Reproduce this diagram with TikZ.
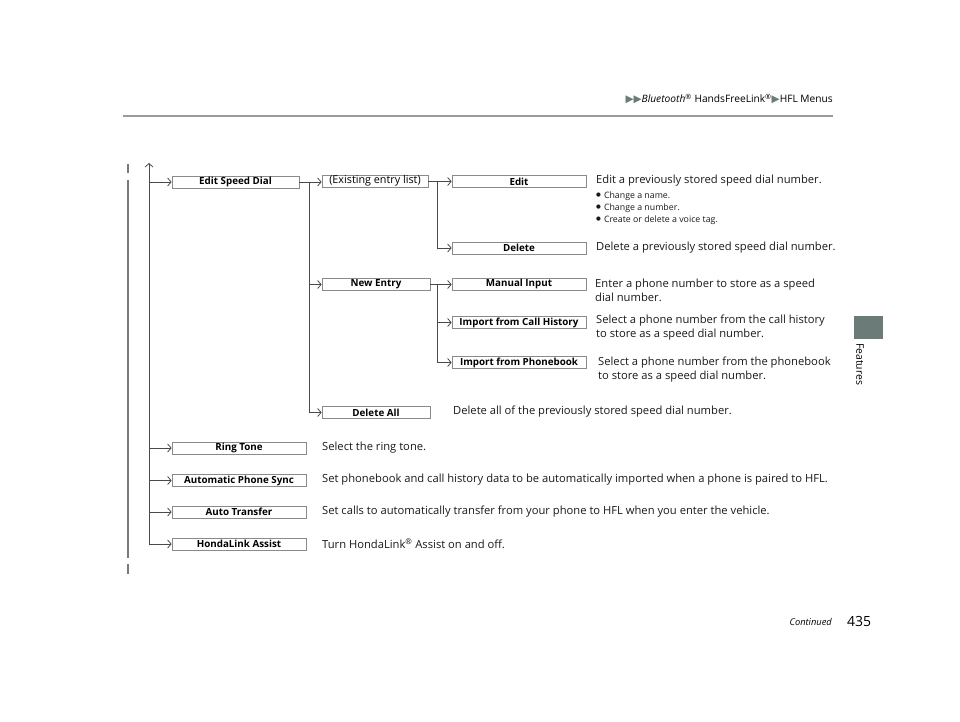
\documentclass[tikz,border=0pt]{standalone}
\usepackage{fontspec}
\setmainfont{Open Sans}
\newfontfamily\dejavu{DejaVu Sans}
\usetikzlibrary{arrows.meta}
\definecolor{linec}{HTML}{4A4A4A}
\definecolor{boxc}{HTML}{8A8A8A}
\definecolor{tabc}{HTML}{6B7B78}
\definecolor{rulec}{HTML}{9A9A9A}
\definecolor{sidec}{HTML}{7A7A7A}
\newcommand{\bul}{\raisebox{1.3pt}{\dejavu\fontsize{5.5}{8}\selectfont ●}\hspace{3pt}}
\newcommand{\tri}{{\dejavu\color{tabc}\fontsize{10.5}{10}\selectfont ▶}}
\begin{document}
\begin{tikzpicture}[x=1pt,y=-1pt,
 box/.style={draw=boxc, line width=0.7pt, fill=white, minimum height=12pt, inner sep=0pt, font=\fontsize{9.8}{10}\selectfont\bfseries},
 conn/.style={draw=linec, line width=0.8pt},
 arr/.style={conn, -{Straight Barb[length=3.5pt,width=8pt]}},
 desc/.style={anchor=west, inner sep=0pt, font=\fontsize{11.2}{14}\selectfont, align=left, text=black!90},
 small/.style={anchor=west, inner sep=0pt, font=\fontsize{8.8}{10}\selectfont, text=black!90}]
\useasboundingbox (0,0) rectangle (960,722);

% header
\node[anchor=east, inner sep=0pt, font=\fontsize{10.2}{12}\selectfont] (hdr) at (833,99)
 {\tri\tri\textit{Bluetooth}\textsuperscript{®} HandsFreeLink\textsuperscript{®}\tri HFL Menus};
\draw[rulec, line width=1.3pt] (123,116) -- (833,116);

% side tab
\fill[tabc] (854,316) rectangle (883,339);
\node[rotate=-90, anchor=west, inner sep=0pt, font=\fontsize{10.4}{12}\selectfont] (feat) at (860,343) {Features};

% footer
\node[anchor=east, inner sep=0pt, font=\fontsize{9.3}{11}\selectfont\itshape] (cont) at (832,622) {Continued};
\node[anchor=west, inner sep=0pt, font=\fontsize{14}{16}\selectfont] (pg) at (847,621) {435};

% left continuation line
\draw[sidec, line width=1.2pt] (128,164) -- (128,173) (128,180) -- (128,558) (128,564) -- (128,574);

% boxes, left column
\node[box, minimum width=127pt] (esd) at (235.5,182) {Edit Speed Dial};
\node[box, minimum width=134pt] (ring) at (239,448) {Ring Tone};
\node[box, minimum width=134pt] (aps) at (239,480.5) {Automatic Phone Sync};
\node[box, minimum width=134pt] (atr) at (239,512) {Auto Transfer};
\node[box, minimum width=134pt] (hla) at (239,544) {HondaLink Assist};

% middle column
\node[box, minimum width=106pt, font=\fontsize{10.8}{11}\selectfont] (exist) at (375,181) {(Existing entry list)};
\node[box, minimum width=108pt] (newe) at (376,284.5) {New Entry};
\node[box, minimum width=108pt] (dall) at (376,412.5) {Delete All};

% right column
\node[box, minimum width=134pt] (edit) at (519,181.5) {Edit};
\node[box, minimum width=134pt] (del) at (519,248) {Delete};
\node[box, minimum width=134pt] (man) at (519,284) {Manual Input};
\node[box, minimum width=134pt] (callh) at (519,322.5) {Import from Call History};
\node[box, minimum width=134pt] (phb) at (519,362.5) {Import from Phonebook};

% main trunk
\coordinate (top) at (149,163);
\coordinate (bot) at (149,544);
\draw[arr] (bot) -- (top);
\draw[arr] (esd.west -| top) -- (esd.west);
\draw[arr] (ring.west -| top) -- (ring.west);
\draw[arr] (aps.west -| top) -- (aps.west);
\draw[arr] (atr.west -| top) -- (atr.west);
\draw[arr] (bot) -- (hla.west);

% edit speed dial branch
\coordinate (v1t) at (309,182);
\coordinate (v1b) at (309,412.5);
\draw[conn] (esd.east) -- (v1t) -- (v1b);
\draw[arr] (v1t) -- (exist.west |- v1t);
\draw[arr] (newe.west -| v1t) -- (newe.west);
\draw[arr] (v1b) -- (dall.west);

% existing entry branch
\coordinate (v2t) at (437,181.5);
\coordinate (v2b) at (437,248);
\draw[conn] (exist.east |- v2t) -- (v2t) -- (v2b);
\draw[arr] (v2t) -- (edit.west);
\draw[arr] (v2b) -- (del.west);

% new entry branch
\coordinate (v3t) at (437,284.5);
\coordinate (v3b) at (437,362.5);
\draw[conn] (newe.east) -- (v3t) -- (v3b);
\draw[arr] (v3t) -- (man.west |- v3t);
\draw[arr] (callh.west -| v3t) -- (callh.west);
\draw[arr] (v3b) -- (phb.west);

% descriptions
\node[desc] (d1) at (596,181) {Edit a previously stored speed dial number.};
\node[small] (b1) at (596,196) {\bul Change a name.};
\node[small] (b2) at (596,208) {\bul Change a number.};
\node[small] (b3) at (596,220) {\bul Create or delete a voice tag.};
\node[desc] (d2) at (596,247.5) {Delete a previously stored speed dial number.};
\node[desc] (d3) at (595,290) {Enter a phone number to store as a speed\\dial number.};
\node[desc] (d4) at (596,328) {Select a phone number from the call history\\to store as a speed dial number.};
\node[desc] (d5) at (598,370) {Select a phone number from the phonebook\\to store as a speed dial number.};
\node[desc] (d6) at (453,412) {Delete all of the previously stored speed dial number.};
\node[desc] (d7) at (322,448) {Select the ring tone.};
\node[desc] (d8) at (322,480) {Set phonebook and call history data to be automatically imported when a phone is paired to HFL.};
\node[desc] (d9) at (322,512) {Set calls to automatically transfer from your phone to HFL when you enter the vehicle.};
\node[desc] (d10) at (322,544) {Turn HondaLink\textsuperscript{®} Assist on and off.};
\end{tikzpicture}
\end{document}
